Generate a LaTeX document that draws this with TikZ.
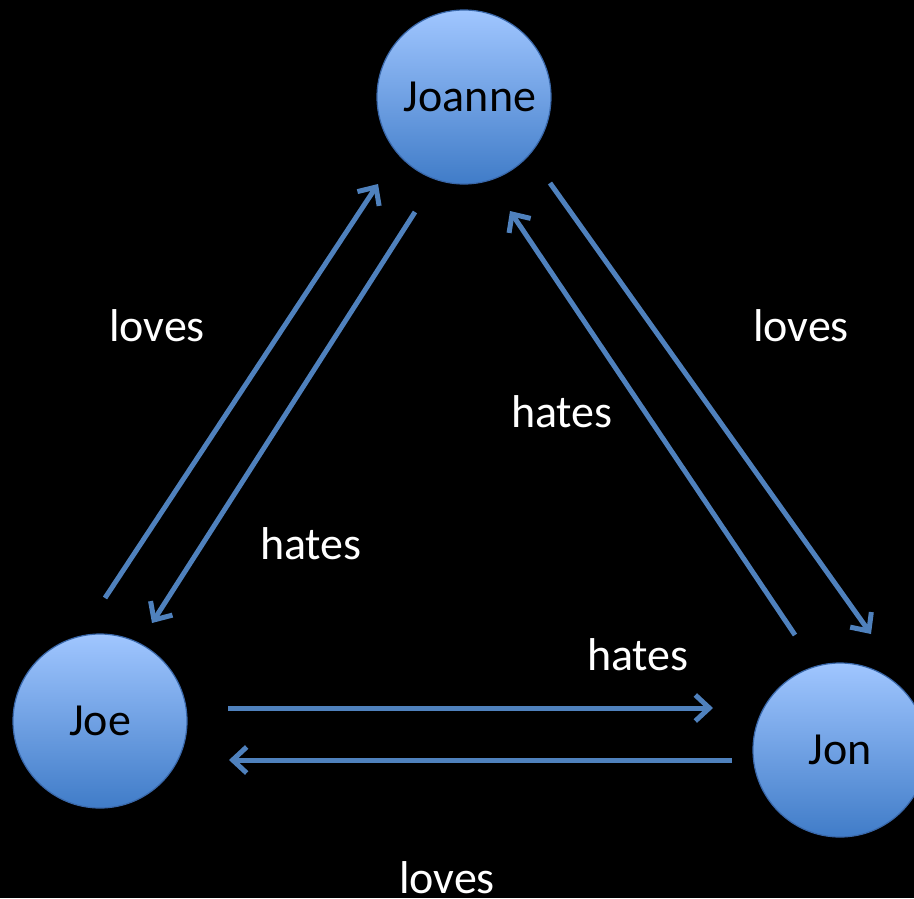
\documentclass[tikz,border=0pt]{standalone}
\usepackage{fontspec}
\setmainfont{Carlito}
\usetikzlibrary{arrows.meta}
\definecolor{arrowblue}{RGB}{79,129,189}
\definecolor{circtop}{RGB}{160,198,255}
\definecolor{circbot}{RGB}{64,124,200}
\definecolor{circline}{RGB}{58,104,170}
\tikzset{
  person/.style={circle, minimum size=174pt, inner sep=0pt, top color=circtop, bottom color=circbot, draw=circline, line width=1.2pt, text=black, font=\fontsize{46}{55}\selectfont},
  rel/.style={draw=arrowblue, line width=5pt, -{Straight Barb[length=14pt,width=26pt]}},
  lbl/.style={text=white, font=\fontsize{46}{55}\selectfont, inner sep=0pt}
}
\begin{document}
\begin{tikzpicture}[x=1pt,y=-1pt]
\fill[black] (0,0) rectangle (914,898);
\useasboundingbox (0,0) rectangle (914,898);
\node[person] (joanne) at (464,97) {\hspace*{12pt}Joanne};
\node[person] (joe) at (100,721) {Joe};
\node[person] (jon) at (840,750) {Jon};
% endpoints
\coordinate (a1) at (105,598); \coordinate (a2) at (378,184);
\coordinate (b1) at (415,212); \coordinate (b2) at (152,623);
\coordinate (c1) at (795,635); \coordinate (c2) at (510,211);
\coordinate (d1) at (550,183); \coordinate (d2) at (871,634);
\coordinate (e1) at (228,708); \coordinate (e2) at (713,708);
\coordinate (f1) at (732,760); \coordinate (f2) at (229,760);
\draw[rel] (a1) -- (a2);
\draw[rel] (b1) -- (b2);
\draw[rel] (c1) -- (c2);
\draw[rel] (d1) -- (d2);
\draw[rel] (e1) -- (e2);
\draw[rel] (f1) -- (f2);
\node[lbl] (l1) at (157,326) {loves};
\node[lbl] (l2) at (311,544) {hates};
\node[lbl] (l3) at (562,412) {hates};
\node[lbl] (l4) at (801,326) {loves};
\node[lbl] (l5) at (638,655) {hates};
\node[lbl] (l6) at (447,878) {loves};
\end{tikzpicture}
\end{document}
